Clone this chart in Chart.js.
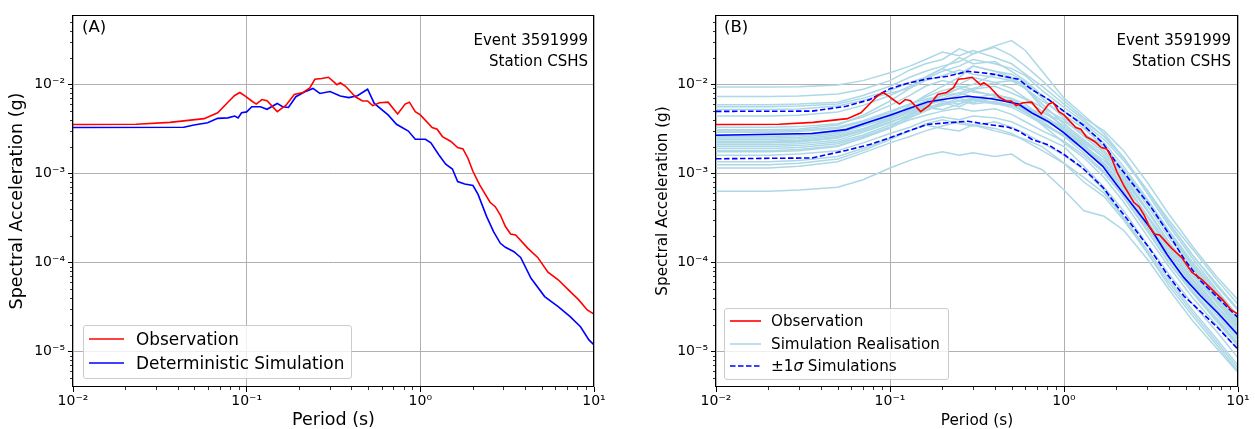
<!DOCTYPE html>
<html>
<head>
<meta charset="utf-8">
<script src="https://cdn.jsdelivr.net/npm/chart.js@4.4.1/dist/chart.umd.min.js"></script>
<style>
  html, body { margin: 0; padding: 0; background: #fff; }
  #wrap { position: relative; width: 1255px; height: 429px; font-family: 'DejaVu Sans', sans-serif; color: #000; overflow: hidden; }
  canvas { position: absolute; top: 0; }
  #chartA { left: 0; }
  #chartB { left: 630px; }
  .tag { position: absolute; top: 19px; font-size: 16.5px; line-height: 1; }
  .note { position: absolute; top: 30px; font-size: 15px; line-height: 21px; text-align: right; white-space: nowrap; }
  .legend { position: absolute; box-sizing: border-box; background: rgba(255,255,255,0.8); border: 1px solid #cccccc; border-radius: 3px; }
  .legend .row { position: absolute; left: 0; height: 20px; line-height: 20px; white-space: nowrap; }
  .legend svg { position: absolute; top: 0; }
  .legend span { position: absolute; top: 0; }
</style>
</head>
<body>
<div id="wrap">
  <canvas id="chartA" width="630" height="429"></canvas>
  <canvas id="chartB" width="625" height="429"></canvas>

  <div class="tag" style="left:82px">(A)</div>
  <div class="note" style="right:667px">Event 3591999<br>Station CSHS</div>
  <div class="legend" style="left:83px; top:325px; width:269px; height:54px; font-size:16.9px">
    <div class="row" style="top:3px"><svg width="45" height="20" style="left:4px"><line x1="1" y1="10" x2="36" y2="10" stroke="#ff0000" stroke-width="1.6"/></svg><span style="left:52px">Observation</span></div>
    <div class="row" style="top:27px"><svg width="45" height="20" style="left:4px"><line x1="1" y1="10" x2="36" y2="10" stroke="#0000ff" stroke-width="1.6"/></svg><span style="left:52px">Deterministic Simulation</span></div>
  </div>

  <div class="tag" style="left:724px">(B)</div>
  <div class="note" style="right:24px">Event 3591999<br>Station CSHS</div>
  <div class="legend" style="left:724px; top:308px; width:225px; height:72px; font-size:15.2px">
    <div class="row" style="top:2px"><svg width="40" height="20" style="left:4px"><line x1="1" y1="10" x2="32" y2="10" stroke="#ff0000" stroke-width="1.6"/></svg><span style="left:46px">Observation</span></div>
    <div class="row" style="top:25px"><svg width="40" height="20" style="left:4px"><line x1="1" y1="10" x2="32" y2="10" stroke="#add8e6" stroke-width="1.6"/></svg><span style="left:46px">Simulation Realisation</span></div>
    <div class="row" style="top:47px"><svg width="40" height="20" style="left:4px"><line x1="1" y1="10" x2="32" y2="10" stroke="#0000ff" stroke-width="1.6" stroke-dasharray="5.5,2.5"/></svg><span style="left:46px">±1<i>σ</i> Simulations</span></div>
  </div>
</div>

<script>
// tick labels
const xTickValues = [0.01, 0.1, 1, 10];
const xTickLabels = ['10\u207B\u00B2', '10\u207B\u00B9', '10\u2070', '10\u00B9'];
const yTickValues = [1e-5, 1e-4, 1e-3, 1e-2];
const yTickLabels = ['10\u207B\u2075', '10\u207B\u2074', '10\u207B\u00B3', '10\u207B\u00B2'];

const obsPeriod = [0.01, 0.0231, 0.0362, 0.0569, 0.0681, 0.078, 0.0853, 0.0914, 0.0977, 0.107, 0.1135, 0.1225, 0.131,
  0.150, 0.168, 0.188, 0.211, 0.231, 0.247, 0.270, 0.296, 0.331, 0.346, 0.371, 0.424, 0.465, 0.497, 0.531, 0.582,
  0.652, 0.740, 0.817, 0.865, 0.935, 1.0, 1.17, 1.25, 1.34, 1.50, 1.64, 1.76, 1.88, 2.01, 2.20, 2.52, 2.70, 2.89,
  3.09, 3.31, 3.54, 4.15, 4.74, 5.43, 6.22, 7.13, 8.17, 9.14, 10];
const obsSa = [3.54e-3, 3.56e-3, 3.74e-3, 4.12e-3, 4.8e-3, 6.3e-3, 7.5e-3, 8.1e-3, 7.4e-3, 6.5e-3, 6.0e-3, 6.75e-3, 6.55e-3,
  4.94e-3, 5.8e-3, 7.7e-3, 8.1e-3, 9.1e-3, 1.14e-2, 1.16e-2, 1.2e-2, 9.9e-3, 1.04e-2, 9.5e-3, 7.2e-3, 6.5e-3, 6.5e-3, 5.76e-3, 6.2e-3,
  6.3e-3, 4.65e-3, 6.0e-3, 6.3e-3, 4.94e-3, 4.53e-3, 3.27e-3, 3.13e-3, 2.59e-3, 2.28e-3, 1.95e-3, 1.88e-3, 1.48e-3, 1.05e-3,
  7.4e-4, 4.74e-4, 4.23e-4, 3.41e-4, 2.53e-4, 2.09e-4, 2.04e-4, 1.45e-4, 1.14e-4, 7.8e-5, 6.4e-5, 4.92e-5, 3.8e-5, 2.93e-5, 2.63e-5];

// deterministic simulation (panel A)
const detPeriod = [0.01, 0.0434, 0.0497, 0.0596, 0.0681, 0.078, 0.0853, 0.0893, 0.0935, 0.1, 0.107, 0.120, 0.131, 0.150,
  0.161, 0.174, 0.192, 0.215, 0.241, 0.264, 0.302, 0.346, 0.387, 0.434, 0.497, 0.543, 0.652, 0.729, 0.853, 0.935, 1.07,
  1.15, 1.28, 1.40, 1.53, 1.64, 1.80, 2.01, 2.15, 2.41, 2.64, 2.89, 3.09, 3.46, 3.78, 4.34, 5.20, 6.22, 7.29, 8.36, 9.35, 10];
const detSa = [3.27e-3, 3.3e-3, 3.5e-3, 3.7e-3, 4.15e-3, 4.2e-3, 4.4e-3, 4.2e-3, 4.8e-3, 4.9e-3, 5.6e-3, 5.6e-3, 5.24e-3, 6.1e-3,
  5.6e-3, 5.5e-3, 7.26e-3, 8.2e-3, 9.0e-3, 7.9e-3, 8.3e-3, 7.4e-3, 7.1e-3, 7.45e-3, 8.8e-3, 6.1e-3, 4.53e-3, 3.56e-3, 2.99e-3,
  2.42e-3, 2.42e-3, 2.21e-3, 1.61e-3, 1.27e-3, 1.12e-3, 8.1e-4, 7.6e-4, 7.3e-4, 5.8e-4, 3.27e-4, 2.22e-4, 1.64e-4, 1.48e-4,
  1.32e-4, 1.14e-4, 6.65e-5, 4.14e-5, 3.2e-5, 2.47e-5, 1.9e-5, 1.35e-5, 1.19e-5];

// simulation statistics (panel B)
const statPeriod = [0.01, 0.0357, 0.056, 0.0764, 0.1, 0.125, 0.164, 0.214, 0.28, 0.383, 0.479, 0.547, 0.655, 0.818, 1.0,
  1.28, 1.67, 2.0, 2.5, 3.13, 3.91, 4.89, 6.11, 7.64, 10];
const meanSa = [2.68e-3, 2.8e-3, 3.1e-3, 3.79e-3, 4.5e-3, 5.25e-3, 6.33e-3, 6.9e-3, 7.35e-3, 6.9e-3, 6.33e-3, 6.0e-3, 4.77e-3,
  3.79e-3, 2.85e-3, 1.9e-3, 1.2e-3, 7.5e-4, 4.3e-4, 2.45e-4, 1.23e-4, 6.76e-5, 4.2e-5, 2.73e-5, 1.54e-5];
const upperSa = [4.97e-3, 5.0e-3, 5.67e-3, 6.73e-3, 8.94e-3, 1.02e-2, 1.15e-2, 1.23e-2, 1.4e-2, 1.31e-2, 1.2e-2, 1.14e-2, 8.7e-3,
  6.73e-3, 4.97e-3, 3.53e-3, 2.2e-3, 1.31e-3, 7.5e-4, 4.3e-4, 2.25e-4, 1.1e-4, 6.2e-5, 4.03e-5, 2.4e-5];
const lowerSa = [1.46e-3, 1.49e-3, 1.81e-3, 2.11e-3, 2.51e-3, 2.95e-3, 3.55e-3, 3.7e-3, 3.85e-3, 3.5e-3, 3.3e-3, 3.0e-3, 2.4e-3,
  2.08e-3, 1.63e-3, 1.15e-3, 7.0e-4, 4.4e-4, 2.5e-4, 1.4e-4, 7.4e-5, 4.2e-5, 2.8e-5, 1.86e-5, 1.06e-5];

// individual realisations (panel B)
const simPeriod = [0.01, 0.02, 0.03, 0.05, 0.07, 0.1, 0.13, 0.16, 0.2, 0.25, 0.3, 0.4, 0.5, 0.6, 0.75, 1.0, 1.3, 1.7, 2.2,
  3.0, 4.0, 5.5, 7.5, 10];
const simSa = [
  [9.3e-3, 9.3e-3, 9.4e-3, 9.8e-3, 1.1e-2, 1.35e-2, 1.6e-2, 1.9e-2, 2.3e-2, 2.1e-2, 2.4e-2, 2.0e-2, 1.7e-2, 1.3e-2, 9.5e-3, 6.0e-3, 4.0e-3, 2.6e-3, 1.5e-3, 6.5e-4, 2.8e-4, 1.2e-4, 5.5e-5, 2.9e-5],
  [7.3e-3, 7.3e-3, 7.4e-3, 7.8e-3, 8.8e-3, 1.1e-2, 1.45e-2, 1.7e-2, 1.9e-2, 2.5e-2, 2.2e-2, 2.6e-2, 2.1e-2, 1.6e-2, 1.1e-2, 6.5e-3, 4.2e-3, 3.0e-3, 1.8e-3, 8.0e-4, 3.5e-4, 1.5e-4, 7.0e-5, 3.8e-5],
  [5.9e-3, 5.9e-3, 6.0e-3, 6.3e-3, 7.5e-3, 9.5e-3, 1.2e-2, 1.4e-2, 1.6e-2, 1.8e-2, 2.2e-2, 2.7e-2, 3.1e-2, 2.4e-2, 1.4e-2, 7.0e-3, 4.5e-3, 2.8e-3, 1.5e-3, 6.0e-4, 2.6e-4, 1.1e-4, 5.0e-5, 2.5e-5],
  [5.6e-3, 5.6e-3, 5.7e-3, 6.0e-3, 7.0e-3, 8.5e-3, 1.05e-2, 1.2e-2, 1.5e-2, 1.3e-2, 1.6e-2, 1.4e-2, 1.2e-2, 9.5e-3, 7.5e-3, 5.0e-3, 3.6e-3, 2.4e-3, 1.4e-3, 6.5e-4, 3.0e-4, 1.4e-4, 6.5e-5, 3.4e-5],
  [5.2e-3, 5.2e-3, 5.3e-3, 5.7e-3, 6.6e-3, 8.0e-3, 9.0e-3, 1.1e-2, 1.25e-2, 1.45e-2, 1.3e-2, 1.2e-2, 1.1e-2, 9.0e-3, 6.5e-3, 4.5e-3, 3.2e-3, 2.0e-3, 1.1e-3, 5.0e-4, 2.2e-4, 9.5e-5, 4.5e-5, 2.3e-5],
  [4.4e-3, 4.4e-3, 4.5e-3, 4.9e-3, 5.8e-3, 7.5e-3, 9.5e-3, 1.15e-2, 1.4e-2, 1.6e-2, 1.9e-2, 1.7e-2, 1.5e-2, 1.25e-2, 8.5e-3, 5.5e-3, 3.8e-3, 2.6e-3, 1.5e-3, 6.5e-4, 2.8e-4, 1.2e-4, 5.8e-5, 3.0e-5],
  [3.3e-3, 3.3e-3, 3.35e-3, 3.6e-3, 4.3e-3, 5.8e-3, 7.5e-3, 9.5e-3, 1.1e-2, 1.0e-2, 1.2e-2, 1.05e-2, 9.0e-3, 7.0e-3, 5.5e-3, 4.0e-3, 2.6e-3, 1.7e-3, 9.5e-4, 4.0e-4, 1.7e-4, 7.5e-5, 3.6e-5, 1.9e-5],
  [3.1e-3, 3.1e-3, 3.15e-3, 3.5e-3, 4.5e-3, 6.5e-3, 9.0e-3, 1.2e-2, 1.5e-2, 2.0e-2, 1.7e-2, 1.8e-2, 1.4e-2, 1.1e-2, 7.5e-3, 5.0e-3, 3.4e-3, 2.2e-3, 1.2e-3, 5.2e-4, 2.3e-4, 1.0e-4, 4.8e-5, 2.5e-5],
  [3.0e-3, 3.0e-3, 3.05e-3, 3.3e-3, 3.9e-3, 5.0e-3, 6.0e-3, 7.2e-3, 8.5e-3, 9.5e-3, 8.8e-3, 9.5e-3, 8.0e-3, 6.8e-3, 5.0e-3, 3.4e-3, 2.3e-3, 1.5e-3, 8.0e-4, 3.4e-4, 1.5e-4, 6.5e-5, 3.2e-5, 1.7e-5],
  [2.9e-3, 2.9e-3, 2.95e-3, 3.2e-3, 3.8e-3, 4.8e-3, 6.0e-3, 6.8e-3, 7.5e-3, 9.0e-3, 8.2e-3, 7.6e-3, 7.0e-3, 6.0e-3, 4.3e-3, 3.1e-3, 2.1e-3, 1.25e-3, 6.5e-4, 2.8e-4, 1.25e-4, 5.6e-5, 2.8e-5, 1.45e-5],
  [2.7e-3, 2.7e-3, 2.75e-3, 3.0e-3, 3.6e-3, 4.6e-3, 5.5e-3, 6.5e-3, 7.5e-3, 8.0e-3, 7.2e-3, 6.8e-3, 6.5e-3, 5.2e-3, 4.0e-3, 3.0e-3, 2.1e-3, 1.3e-3, 7.0e-4, 3.0e-4, 1.3e-4, 5.8e-5, 2.9e-5, 1.5e-5],
  [2.6e-3, 2.6e-3, 2.65e-3, 2.9e-3, 3.5e-3, 4.4e-3, 5.0e-3, 5.5e-3, 5.2e-3, 6.0e-3, 6.8e-3, 6.2e-3, 5.8e-3, 5.4e-3, 4.8e-3, 3.8e-3, 2.8e-3, 2.0e-3, 1.1e-3, 4.8e-4, 2.1e-4, 9.0e-5, 4.2e-5, 2.2e-5],
  [2.5e-3, 2.5e-3, 2.55e-3, 2.8e-3, 3.4e-3, 4.2e-3, 5.2e-3, 5.8e-3, 6.6e-3, 7.6e-3, 8.5e-3, 7.4e-3, 6.0e-3, 5.5e-3, 4.5e-3, 3.2e-3, 2.0e-3, 1.2e-3, 6.0e-4, 2.5e-4, 1.1e-4, 4.8e-5, 2.4e-5, 1.25e-5],
  [2.4e-3, 2.4e-3, 2.45e-3, 2.7e-3, 3.2e-3, 4.0e-3, 4.8e-3, 5.5e-3, 6.0e-3, 6.5e-3, 7.0e-3, 6.2e-3, 5.5e-3, 4.6e-3, 3.6e-3, 2.6e-3, 1.9e-3, 1.3e-3, 7.5e-4, 3.4e-4, 1.6e-4, 7.0e-5, 3.3e-5, 1.8e-5],
  [2.3e-3, 2.3e-3, 2.35e-3, 2.6e-3, 3.1e-3, 4.0e-3, 5.0e-3, 6.0e-3, 6.5e-3, 6.0e-3, 7.0e-3, 7.8e-3, 6.8e-3, 5.6e-3, 4.2e-3, 2.9e-3, 2.0e-3, 1.2e-3, 6.2e-4, 2.6e-4, 1.15e-4, 5.2e-5, 2.6e-5, 1.35e-5],
  [2.25e-3, 2.25e-3, 2.3e-3, 2.5e-3, 3.0e-3, 3.8e-3, 4.5e-3, 5.4e-3, 6.2e-3, 5.6e-3, 6.6e-3, 6.0e-3, 5.8e-3, 5.0e-3, 3.5e-3, 2.2e-3, 1.5e-3, 9.0e-4, 4.8e-4, 2.0e-4, 9.0e-5, 4.0e-5, 2.0e-5, 1.05e-5],
  [2.2e-3, 2.2e-3, 2.25e-3, 2.5e-3, 3.1e-3, 4.2e-3, 5.8e-3, 7.5e-3, 9.5e-3, 1.2e-2, 1.6e-2, 1.4e-2, 1.3e-2, 1.05e-2, 7.0e-3, 4.2e-3, 2.8e-3, 1.8e-3, 1.0e-3, 4.4e-4, 1.9e-4, 8.5e-5, 4.0e-5, 2.1e-5],
  [2.1e-3, 2.1e-3, 2.15e-3, 2.35e-3, 2.9e-3, 3.7e-3, 4.6e-3, 5.8e-3, 7.0e-3, 8.0e-3, 9.0e-3, 1.05e-2, 1.1e-2, 9.0e-3, 5.5e-3, 3.2e-3, 2.2e-3, 1.5e-3, 8.5e-4, 3.8e-4, 1.7e-4, 7.8e-5, 3.8e-5, 2.0e-5],
  [2.0e-3, 2.0e-3, 2.05e-3, 2.25e-3, 2.7e-3, 3.5e-3, 4.3e-3, 5.2e-3, 5.8e-3, 6.6e-3, 6.0e-3, 6.4e-3, 5.8e-3, 4.8e-3, 3.8e-3, 2.6e-3, 1.7e-3, 1.05e-3, 5.4e-4, 2.3e-4, 1.0e-4, 4.6e-5, 2.3e-5, 1.2e-5],
  [1.9e-3, 1.9e-3, 1.95e-3, 2.15e-3, 2.6e-3, 3.3e-3, 4.0e-3, 4.5e-3, 5.0e-3, 5.4e-3, 5.0e-3, 5.3e-3, 4.6e-3, 3.8e-3, 3.0e-3, 2.3e-3, 1.6e-3, 1.0e-3, 5.5e-4, 2.3e-4, 1.0e-4, 4.5e-5, 2.2e-5, 1.15e-5],
  [1.8e-3, 1.8e-3, 1.85e-3, 2.05e-3, 2.5e-3, 3.3e-3, 4.5e-3, 5.8e-3, 7.5e-3, 9.0e-3, 1.0e-2, 1.3e-2, 1.15e-2, 9.0e-3, 6.0e-3, 3.6e-3, 2.4e-3, 1.6e-3, 9.0e-4, 3.9e-4, 1.7e-4, 7.6e-5, 3.6e-5, 1.9e-5],
  [1.75e-3, 1.75e-3, 1.8e-3, 2.0e-3, 2.5e-3, 3.2e-3, 4.2e-3, 5.0e-3, 6.0e-3, 7.0e-3, 6.2e-3, 7.2e-3, 6.5e-3, 5.0e-3, 3.6e-3, 2.7e-3, 2.0e-3, 1.4e-3, 8.0e-4, 3.3e-4, 1.4e-4, 6.2e-5, 3.0e-5, 1.6e-5],
  [1.6e-3, 1.6e-3, 1.65e-3, 1.8e-3, 2.2e-3, 2.8e-3, 3.3e-3, 3.9e-3, 4.3e-3, 4.0e-3, 4.4e-3, 4.2e-3, 3.8e-3, 3.2e-3, 2.6e-3, 2.0e-3, 1.2e-3, 7.0e-4, 3.8e-4, 1.6e-4, 7.5e-5, 3.4e-5, 1.7e-5, 8.5e-6],
  [1.35e-3, 1.35e-3, 1.4e-3, 1.55e-3, 1.9e-3, 2.5e-3, 3.0e-3, 3.6e-3, 4.0e-3, 3.6e-3, 3.4e-3, 3.8e-3, 3.3e-3, 2.8e-3, 2.2e-3, 1.6e-3, 1.1e-3, 6.5e-4, 3.2e-4, 1.3e-4, 6.0e-5, 2.7e-5, 1.3e-5, 6.5e-6],
  [1.25e-3, 1.25e-3, 1.3e-3, 1.45e-3, 1.8e-3, 2.4e-3, 3.0e-3, 3.5e-3, 3.2e-3, 3.0e-3, 3.5e-3, 3.2e-3, 2.8e-3, 2.3e-3, 1.8e-3, 1.3e-3, 9.0e-4, 6.0e-4, 3.2e-4, 1.4e-4, 6.5e-5, 2.9e-5, 1.4e-5, 7.0e-6],
  [1.15e-3, 1.15e-3, 1.2e-3, 1.35e-3, 1.7e-3, 2.2e-3, 2.6e-3, 3.0e-3, 3.4e-3, 3.8e-3, 3.5e-3, 3.0e-3, 2.7e-3, 2.4e-3, 2.0e-3, 1.3e-3, 8.0e-4, 5.5e-4, 3.0e-4, 1.3e-4, 5.5e-5, 2.5e-5, 1.2e-5, 6.0e-6],
  [6.3e-4, 6.3e-4, 6.5e-4, 7.0e-4, 8.5e-4, 1.15e-3, 1.4e-3, 1.6e-3, 1.75e-3, 1.6e-3, 1.7e-3, 1.55e-3, 1.65e-3, 1.3e-3, 1.1e-3, 6.5e-4, 3.8e-4, 3.3e-4, 2.3e-4, 1.1e-4, 5.0e-5, 2.2e-5, 1.1e-5, 5.8e-6]
];

const RED = '#ff0000';
const BLUE = '#0000ff';
const LIGHT = '#add8e6';

function pts(periods, values) {
  return periods.map((p, i) => ({ x: p, y: values[i] }));
}

function line(data, color, extra) {
  return Object.assign({ data, borderColor: color, borderWidth: 1.6, pointRadius: 0, tension: 0, fill: false }, extra || {});
}

// frame + minor log ticks, matplotlib style
const axesFrame = {
  id: 'axesFrame',
  afterDraw(chart) {
    const { ctx, chartArea: a, scales: { x, y } } = chart;
    ctx.save();
    ctx.strokeStyle = '#000';
    ctx.lineWidth = 0.8;
    ctx.beginPath();
    for (let d = -6; d <= 1; d++) {
      for (let k = 2; k <= 9; k++) {
        const v = k * Math.pow(10, d);
        if (v > x.min && v < x.max) {
          const px = Math.round(x.getPixelForValue(v)) + 0.5;
          ctx.moveTo(px, a.bottom); ctx.lineTo(px, a.bottom + 3);
        }
        if (v > y.min && v < y.max) {
          const py = Math.round(y.getPixelForValue(v)) + 0.5;
          ctx.moveTo(a.left, py); ctx.lineTo(a.left - 3, py);
        }
      }
    }
    ctx.stroke();
    ctx.lineWidth = 1;
    const l = Math.round(a.left) - 0.5, t = Math.round(a.top) + 0.5;
    const r = Math.round(a.right) - 0.5, b = Math.round(a.bottom) - 0.5;
    ctx.strokeRect(l, t, r - l, b - t);
    ctx.restore();
  }
};

function makeOptions(o) {
  return {
    responsive: false,
    animation: false,
    events: [],
    devicePixelRatio: 1,
    layout: { autoPadding: false, padding: { left: 0, top: 15, right: o.padRight, bottom: 0 } },
    plugins: { legend: { display: false }, tooltip: { enabled: false } },
    scales: {
      x: {
        type: 'logarithmic', min: 0.01, max: 10,
        afterFit: s => { s.height = 42; },
        afterBuildTicks: s => { s.ticks = xTickValues.map(v => ({ value: v })); },
        grid: { color: '#b0b0b0', lineWidth: 1, tickColor: '#000', tickLength: 5, tickWidth: 1 },
        border: { display: false },
        ticks: { autoSkip: false, maxRotation: 0, padding: 1, color: '#000',
          font: { family: 'DejaVu Sans', size: 14 }, callback: (v, i) => xTickLabels[i] },
        title: { display: true, text: 'Period (s)', color: '#000',
          font: { family: 'DejaVu Sans', size: o.titleSize, lineHeight: 1 }, padding: { top: 0, bottom: 0 } }
      },
      y: {
        type: 'logarithmic', min: 4e-6, max: 6e-2,
        afterFit: s => { s.width = o.yWidth; },
        afterBuildTicks: s => { s.ticks = yTickValues.map(v => ({ value: v })); },
        grid: { color: '#b0b0b0', lineWidth: 1, tickColor: '#000', tickLength: 5, tickWidth: 1 },
        border: { display: false },
        ticks: { autoSkip: false, padding: 3, color: '#000',
          font: { family: 'DejaVu Sans', size: 14 }, callback: (v, i) => yTickLabels[i] },
        title: { display: true, text: 'Spectral Acceleration (g)', color: '#000',
          font: { family: 'DejaVu Sans', size: o.titleSize, lineHeight: 1 }, padding: { top: o.yTitlePad, bottom: 0 } }
      }
    }
  };
}

new Chart(document.getElementById('chartA'), {
  type: 'line',
  data: {
    datasets: [
      line(pts(obsPeriod, obsSa), RED, { label: 'Observation' }),
      line(pts(detPeriod, detSa), BLUE, { label: 'Deterministic Simulation' })
    ]
  },
  options: makeOptions({ padRight: 36, yWidth: 73, titleSize: 17.5, yTitlePad: 9 }),
  plugins: [axesFrame]
});

const datasetsB = [
  line(pts(obsPeriod, obsSa), RED, { label: 'Observation' }),
  line(pts(statPeriod, meanSa), BLUE, { label: 'Mean' }),
  line(pts(statPeriod, upperSa), BLUE, { label: '±1σ Simulations', borderDash: [5.5, 2.5] }),
  line(pts(statPeriod, lowerSa), BLUE, { label: '±1σ Simulations', borderDash: [5.5, 2.5] })
];
simSa.forEach(vals => datasetsB.push(line(pts(simPeriod, vals), LIGHT, { label: 'Simulation Realisation', borderWidth: 1.5 })));

new Chart(document.getElementById('chartB'), {
  type: 'line',
  data: { datasets: datasetsB },
  options: makeOptions({ padRight: 17, yWidth: 86, titleSize: 15.3, yTitlePad: 25 }),
  plugins: [axesFrame]
});
</script>
</body>
</html>
